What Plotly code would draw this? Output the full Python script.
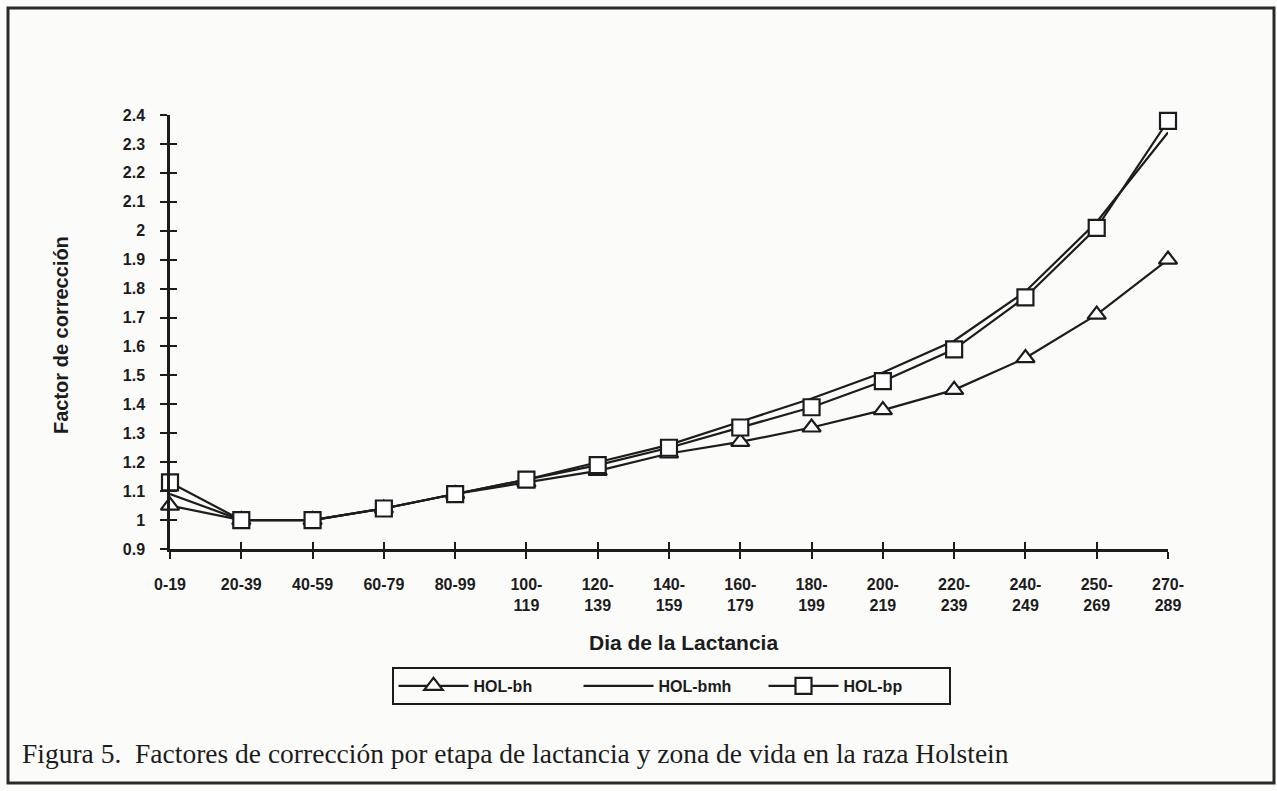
import plotly.graph_objects as go

# ---- data ----
categories = ["0-19", "20-39", "40-59", "60-79", "80-99", "100-119", "120-139",
              "140-159", "160-179", "180-199", "200-219", "220-239", "240-249",
              "250-269", "270-289"]
tick_labels = ["0-19", "20-39", "40-59", "60-79", "80-99", "100-<br>119", "120-<br>139",
               "140-<br>159", "160-<br>179", "180-<br>199", "200-<br>219", "220-<br>239",
               "240-<br>249", "250-<br>269", "270-<br>289"]
hol_bh = [1.05, 1.00, 1.00, 1.04, 1.09, 1.13, 1.17, 1.23, 1.27, 1.32, 1.38, 1.45, 1.56, 1.71, 1.90]
hol_bmh = [1.09, 1.00, 1.00, 1.04, 1.09, 1.14, 1.20, 1.26, 1.34, 1.42, 1.51, 1.62, 1.79, 2.03, 2.34]
hol_bp = [1.13, 1.00, 1.00, 1.04, 1.09, 1.14, 1.19, 1.25, 1.32, 1.39, 1.48, 1.59, 1.77, 2.01, 2.38]
y_ticks = [0.9, 1.0, 1.1, 1.2, 1.3, 1.4, 1.5, 1.6, 1.7, 1.8, 1.9, 2.0, 2.1, 2.2, 2.3, 2.4]
y_tick_text = ["0.9", "1", "1.1", "1.2", "1.3", "1.4", "1.5", "1.6", "1.7", "1.8", "1.9",
               "2", "2.1", "2.2", "2.3", "2.4"]

INK = "#1c1c1c"
BG = "#fbfbfa"
SANS = "Liberation Sans, Arial, sans-serif"
SERIF = "Liberation Serif, Times New Roman, serif"

W, H = 1277, 791
L, R, T, B = 170, 109, 115, 242
PW, PH = W - L - R, H - T - B


def px(x):
    return (x - L) / PW


def py(y):
    return (H - B - y) / PH


fig = go.Figure()
fig.add_trace(go.Scatter(
    x=categories, y=hol_bh, name="HOL-bh", mode="lines+markers", cliponaxis=False,
    line=dict(color=INK, width=2.2),
    marker=dict(symbol="triangle-up", size=16, color="white", line=dict(color=INK, width=2.2)),
))
fig.add_trace(go.Scatter(
    x=categories, y=hol_bmh, name="HOL-bmh", mode="lines", cliponaxis=False,
    line=dict(color=INK, width=2.2),
))
fig.add_trace(go.Scatter(
    x=categories, y=hol_bp, name="HOL-bp", mode="lines+markers", cliponaxis=False,
    line=dict(color=INK, width=2.2),
    marker=dict(symbol="square", size=16, color="white", line=dict(color=INK, width=2.2)),
))
# helper trace for the overlay axes (inside tick halves)
fig.add_trace(go.Scatter(x=categories, y=[None] * len(categories), xaxis="x2", yaxis="y2",
                         showlegend=False, hoverinfo="skip", mode="lines"))

tickfont = dict(family=SANS, size=16, color=INK, weight="bold")

fig.update_layout(
    width=W, height=H,
    margin=dict(l=L, r=R, t=T, b=B),
    paper_bgcolor=BG, plot_bgcolor=BG,
    showlegend=True,
    xaxis=dict(type="category", range=[0, 14], tickvals=categories, ticktext=tick_labels,
               showline=True, linecolor=INK, linewidth=2.5, ticks="outside", ticklen=7,
               tickwidth=2, tickcolor=INK, showgrid=False, zeroline=False,
               tickfont=tickfont, ticklabelstandoff=12),
    yaxis=dict(range=[0.9, 2.4], tickvals=y_ticks, ticktext=y_tick_text,
               showline=True, linecolor=INK, linewidth=2.5, ticks="outside", ticklen=7,
               tickwidth=2, tickcolor=INK, showgrid=False, zeroline=False,
               tickfont=tickfont, ticklabelstandoff=12),
    xaxis2=dict(type="category", range=[0, 14], tickvals=categories, overlaying="x",
                anchor="y2", side="bottom", showline=False, ticks="inside", ticklen=7,
                tickwidth=2, tickcolor=INK, showticklabels=False, showgrid=False, zeroline=False),
    yaxis2=dict(range=[0.9, 2.4], tickvals=y_ticks, overlaying="y", anchor="x2", side="left",
                showline=False, ticks="inside", ticklen=7, tickwidth=2, tickcolor=INK,
                showticklabels=False, showgrid=False, zeroline=False),
    legend=dict(orientation="h", x=px(671), y=py(686), xanchor="center", yanchor="middle",
                bordercolor=INK, borderwidth=2, bgcolor=BG,
                font=dict(family=SANS, size=16, color=INK, weight="bold"),
                itemwidth=70, entrywidth=100, entrywidthmode="pixels"),
    annotations=[
        dict(text="Dia de la Lactancia", x=px(683), y=py(642), xref="paper", yref="paper",
             showarrow=False, xanchor="center", yanchor="middle",
             font=dict(family=SANS, size=21, color=INK, weight="bold")),
        dict(text="Factor de corrección", x=px(61), y=py(335), xref="paper", yref="paper",
             showarrow=False, xanchor="center", yanchor="middle", textangle=-90,
             font=dict(family=SANS, size=20, color=INK, weight="bold")),
        dict(text="Figura 5.  Factores de corrección por etapa de lactancia y zona de vida en la raza Holstein",
             x=px(20), y=py(753), xref="paper", yref="paper", showarrow=False,
             xanchor="left", yanchor="middle",
             font=dict(family=SERIF, size=27.5, color=INK)),
    ],
    shapes=[
        dict(type="rect", xref="paper", yref="paper", x0=px(8), x1=px(1274), y0=py(783), y1=py(8),
             line=dict(color="#2a2a2a", width=3), fillcolor="rgba(0,0,0,0)", layer="below"),
    ],
)

fig.write_html("out.html", config={"displayModeBar": False},
               post_script="document.body.style.margin='0';document.body.style.overflow='hidden';")
